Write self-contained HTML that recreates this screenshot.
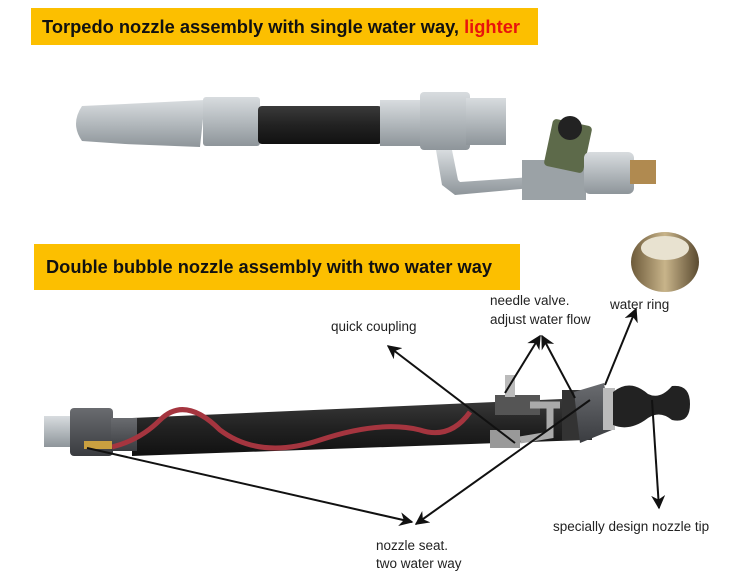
<!DOCTYPE html>
<html><head><meta charset="utf-8"><style>
html,body{margin:0;padding:0;background:#fff;width:750px;height:577px;overflow:hidden}
svg{display:block}
.ban{font-family:"Liberation Sans",Arial,sans-serif;font-weight:bold;font-size:18px;fill:#111}
.lab{font-family:"Liberation Sans",Arial,sans-serif;font-size:13.5px;fill:#222}
</style></head><body>
<svg width="750" height="577" viewBox="0 0 750 577" xmlns="http://www.w3.org/2000/svg">
<defs>
<linearGradient id="sil" x1="0" y1="0" x2="0" y2="1"><stop offset="0" stop-color="#d8dcdf"/><stop offset=".5" stop-color="#b3b9bd"/><stop offset="1" stop-color="#8e959a"/></linearGradient>
<linearGradient id="blk" x1="0" y1="0" x2="0" y2="1"><stop offset="0" stop-color="#3a3a3a"/><stop offset=".5" stop-color="#222"/><stop offset="1" stop-color="#111"/></linearGradient>
<linearGradient id="gr" x1="0" y1="0" x2="0" y2="1"><stop offset="0" stop-color="#6a6c70"/><stop offset="1" stop-color="#3a3c40"/></linearGradient>
<linearGradient id="gold" x1="0" y1="0" x2="1" y2="0"><stop offset="0" stop-color="#6d5a3a"/><stop offset=".5" stop-color="#c8b48a"/><stop offset="1" stop-color="#5a4a30"/></linearGradient>
<marker id="ah" viewBox="0 0 10 10" refX="9" refY="5" markerWidth="7" markerHeight="7" orient="auto"><path d="M0,0 L10,5 L0,10 L3,5 z" fill="#111"/></marker>
</defs>
<rect x="31" y="8" width="507" height="37" fill="#fcbf00"/>
<text class="ban" x="42" y="33" textLength="478" lengthAdjust="spacingAndGlyphs">Torpedo nozzle assembly with single water way, <tspan fill="#e8140c">lighter</tspan></text>
<rect x="34" y="244" width="486" height="46" fill="#fcbf00"/>
<text class="ban" x="46" y="273" textLength="446" lengthAdjust="spacingAndGlyphs">Double bubble nozzle assembly with two water way</text>

<path d="M82,106 Q70,124 82,141 L125,144 L200,147 L205,100 L125,104 Z" fill="url(#sil)"/>
<rect x="203" y="97" width="57" height="49" rx="3" fill="url(#sil)"/>
<rect x="258" y="106" width="124" height="38" rx="4" fill="url(#blk)"/>
<rect x="380" y="100" width="42" height="46" fill="url(#sil)"/>
<rect x="420" y="92" width="50" height="58" rx="4" fill="url(#sil)"/>
<rect x="466" y="98" width="40" height="47" fill="url(#sil)"/>
<path d="M436,150 L452,150 L458,180 L460,182 L532,177 L532,188 L455,195 L442,185 Z" fill="url(#sil)"/>
<rect x="522" y="160" width="64" height="40" fill="#9ba2a6"/>
<rect x="548" y="122" width="40" height="48" rx="4" fill="#5d6a4a" transform="rotate(12 568 146)"/>
<circle cx="570" cy="128" r="12" fill="#222"/>
<rect x="584" y="152" width="50" height="42" rx="6" fill="url(#sil)"/>
<rect x="630" y="160" width="26" height="24" fill="#b08a50"/>

<ellipse cx="665" cy="262" rx="34" ry="30" fill="url(#gold)"/>
<ellipse cx="665" cy="248" rx="24" ry="12" fill="#e8e2d0"/>

<path d="M132,418 L585,398 L585,440 L132,456 Z" fill="url(#blk)"/>
<rect x="44" y="416" width="28" height="31" fill="url(#sil)"/>
<rect x="70" y="408" width="43" height="48" rx="4" fill="url(#gr)"/>
<rect x="111" y="418" width="26" height="33" fill="url(#gr)"/>
<path d="M112,447 Q140,440 160,420 Q185,395 220,430 Q260,460 320,440 Q380,420 420,430 Q450,440 470,412" fill="none" stroke="#a5353f" stroke-width="5"/>
<rect x="84" y="441" width="28" height="8" fill="#c9a040"/>
<rect x="495" y="395" width="45" height="20" fill="#555"/>
<rect x="505" y="375" width="10" height="22" fill="#bbb"/>
<path d="M530,405 L560,405 M550,405 L550,435 L520,440" stroke="#aaa" stroke-width="7" fill="none"/>
<rect x="490" y="430" width="30" height="18" fill="#999"/>
<rect x="562" y="390" width="30" height="50" fill="#333"/>
<path d="M574,392 L604,383 L612,430 L580,443 Z" fill="url(#gr)"/>
<rect x="603" y="388" width="12" height="42" fill="#bbb"/>
<path d="M613,392 Q630,378 648,394 Q660,400 672,386 Q690,384 690,404 Q690,424 672,420 Q660,410 648,418 Q630,432 613,425 Z" fill="#222"/>

<g stroke="#111" stroke-width="2" fill="none">
<line x1="515" y1="443" x2="388" y2="346" marker-end="url(#ah)"/>
<line x1="505" y1="393" x2="540" y2="336" marker-end="url(#ah)"/>
<line x1="575" y1="398" x2="542" y2="336" marker-end="url(#ah)"/>
<line x1="605" y1="385" x2="636" y2="309" marker-end="url(#ah)"/>
<line x1="652" y1="400" x2="659" y2="508" marker-end="url(#ah)"/>
<line x1="87" y1="448" x2="412" y2="522" marker-end="url(#ah)"/>
<line x1="590" y1="400" x2="416" y2="524" marker-end="url(#ah)"/>
</g>
<text class="lab" x="331" y="331">quick coupling</text>
<text class="lab" x="490" y="305">needle valve.</text>
<text class="lab" x="490" y="324">adjust water flow</text>
<text class="lab" x="610" y="309">water ring</text>
<text class="lab" x="553" y="531">specially design nozzle tip</text>
<text class="lab" x="376" y="550">nozzle seat.</text>
<text class="lab" x="376" y="568">two water way</text>
</svg>
</body></html>
